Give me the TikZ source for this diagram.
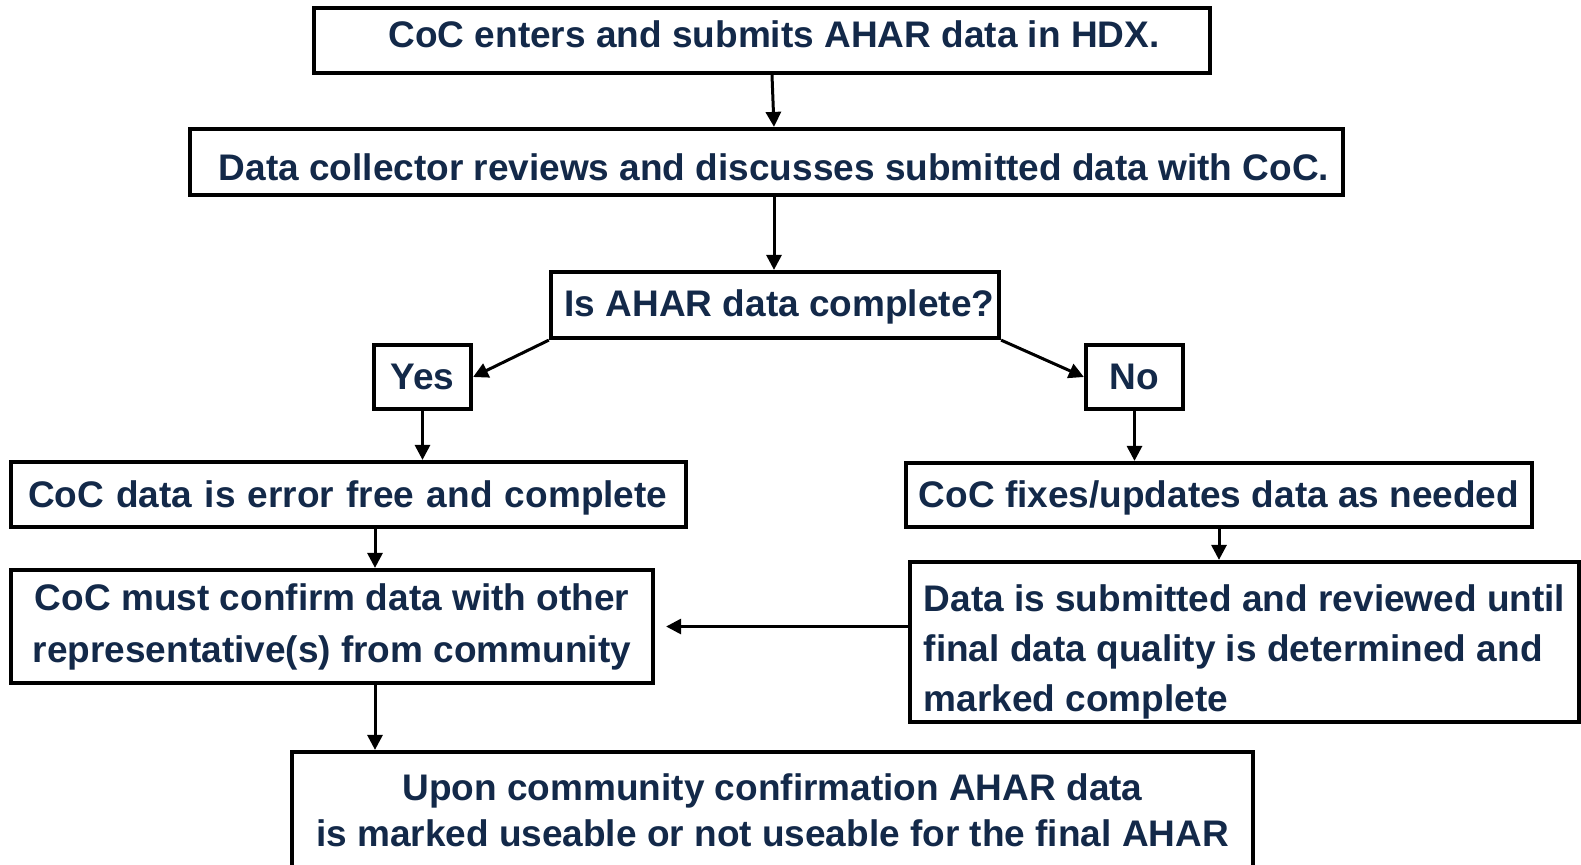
\documentclass[tikz,border=0pt]{standalone}
\usepackage{fontspec}
\setmainfont{Liberation Sans}
\usetikzlibrary{arrows.meta}
\definecolor{txt}{HTML}{132949}
\newcommand{\shiftup}[2]{\raisebox{#1}[\height][\depth]{#2}}
\begin{document}
\begin{tikzpicture}[x=0.5pt,y=-0.5pt,
  box/.style={draw=black, line width=2.1pt, fill=white, rectangle, inner ysep=0pt, inner xsep=0pt,
    text=txt, font=\bfseries\fontsize{18.5}{26}\selectfont, minimum height=#1},
  ar/.style={line width=1.5pt, -{Triangle[length=7.5pt,width=7.5pt]}}]
\useasboundingbox (0,0) rectangle (1581,864);

\node[box=32.5pt, minimum width=448pt] (b1) at (762,40.5) {\shiftup{3pt}{\hspace*{12pt}CoC enters and submits AHAR data in HDX.}};
\node[box=33pt, minimum width=576.5pt] (b2) at (766.5,162) {\shiftup{-2.5pt}{\hspace*{7.5pt}Data collector reviews and discusses submitted data with CoC.}};
\node[box=33pt, minimum width=224pt] (b3) at (775,305) {\shiftup{-1pt}{\hspace*{4.5pt}Is AHAR data complete?}};
\node[box=32pt, minimum width=48.5pt] (yes) at (422.5,377) {Yes};
\node[box=32pt, minimum width=48.5pt] (no) at (1134.5,377) {No};
\node[box=32.5pt, inner xsep=8.5pt, text width=320.5pt, align=left] (b4) at (348.5,494.5) {\shiftup{-1.5pt}{CoC data is error free and complete}};
\node[box=32pt, minimum width=313pt] (b5) at (1219,495) {\shiftup{-1.5pt}{CoC fixes/updates data as needed}};
\node[box=56.5pt, minimum width=321pt, align=center] (b6) at (332,626.5) {CoC must confirm data with other\\representative(s) from community};
\node[box=80pt, minimum width=334.5pt, align=left, font=\bfseries\fontsize{18.5}{25}\selectfont] (b7) at (1244.5,642) {\rule{0pt}{23.5pt}Data is submitted and reviewed until\\final data quality is determined and\\marked complete};
\node[box=58pt, minimum width=480.5pt, align=center, font=\bfseries\fontsize{18.5}{23}\selectfont] (b8) at (772.5,810) {Upon community confirmation AHAR data\\is marked useable or not useable for the final AHAR};

\draw[ar] ([xshift=5pt]b1.south) -- ([xshift=3.75pt]b2.north);
\draw[ar] ([xshift=3.75pt]b2.south) -- ([xshift=3.75pt]b2.south |- b3.north);
\draw[ar] (b3.south west) -- (yes.east);
\draw[ar] (b3.south east) -- (no.west);
\draw[ar] (yes.south) -- (yes.south |- b4.north);
\draw[ar] (no.south) -- (no.south |- b5.north);
\draw[ar] ([xshift=13.25pt]b4.south) -- ([xshift=13.25pt]b4.south |- b6.north);
\draw[ar] (b5.south) -- (b5.south |- b7.north);
\draw[ar] (b7.west |- b6.east) -- ([xshift=5.5pt]b6.east);
\draw[ar] ([xshift=21.5pt]b6.south) -- ([xshift=21.5pt]b6.south |- b8.north);
\end{tikzpicture}
\end{document}
